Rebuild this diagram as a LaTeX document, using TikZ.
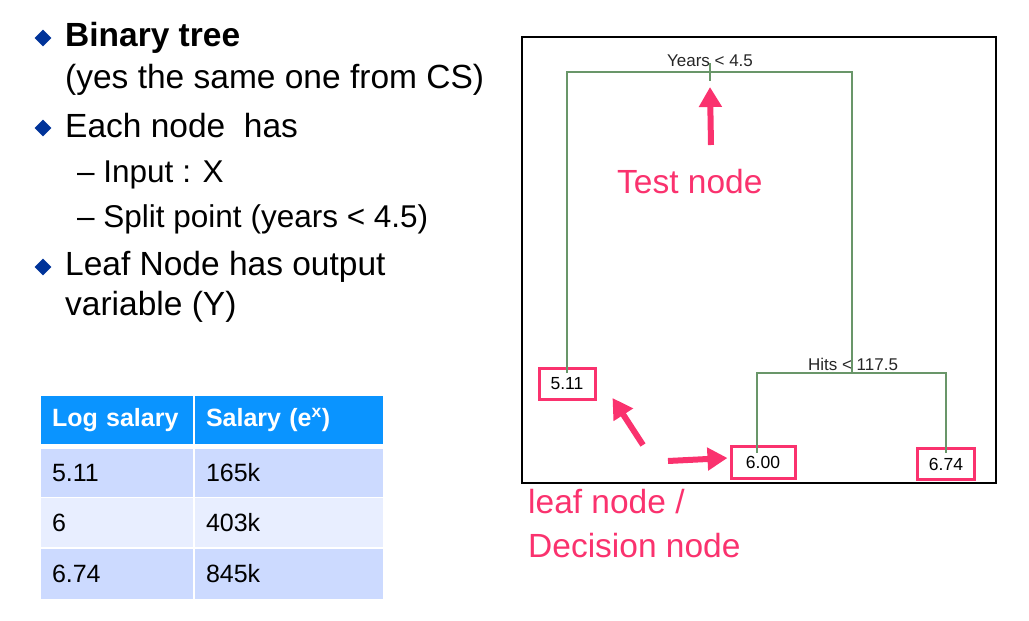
\documentclass[tikz,border=0pt]{standalone}
\usepackage{fontspec}
\setmainfont{Liberation Sans}
\usepackage{xcolor}
\usetikzlibrary{positioning,arrows.meta,shapes.geometric}
\definecolor{hotpink}{RGB}{250,50,110}
\definecolor{treegreen}{RGB}{105,150,105}
\definecolor{bulletblue}{RGB}{0,51,153}
\definecolor{headblue}{RGB}{10,148,255}
\definecolor{rowdark}{RGB}{204,218,255}
\definecolor{rowlight}{RGB}{232,238,255}
\tikzset{
    bullet/.style = {diamond, fill=bulletblue, inner sep=0pt, minimum size=17pt},
    txt/.style = {anchor=base west, inner sep=0pt, font=\fontsize{33.5}{40}\selectfont},
    subtxt/.style = {anchor=base west, inner sep=0pt, font=\fontsize{31.5}{38}\selectfont},
    pinktxt/.style = {txt, text=hotpink},
    leaf/.style = {draw=hotpink, line width=3pt, inner sep=0pt, font=\fontsize{17.5}{21}\selectfont},
    split/.style = {inner sep=0pt, font=\fontsize{17}{20}\selectfont, text=black!85},
    branch/.style = {draw=treegreen, line width=1.2pt},
    callout/.style = {draw=hotpink, line width=6pt, -{Triangle[length=20pt,width=22pt]}},
    cell/.style = {inner xsep=11pt, inner ysep=0pt, align=left, font=\fontsize{25}{30}\selectfont},
    headcell/.style = {cell, fill=headblue, text=white, font=\fontsize{25}{30}\selectfont\bfseries}
}

\begin{document}
\begin{tikzpicture}[x=1pt, y=-1pt]
\useasboundingbox (0,0) rectangle (1029,621);

% bullet list
\node[bullet] (b1) at (43,38) {};
\node[txt, font=\fontsize{33.5}{40}\selectfont\bfseries] (binary) at (65,46) {Binary tree};
\node[txt] (cs) at (65,88) {(yes the same one from CS)};
\node[bullet] (b2) at (43,128) {};
\node[txt] (each) at (65,137) {Each node~ has};
\node[subtxt] (input) at (77,182) {-- Input : X};
\node[subtxt] (splitpt) at (77,227) {-- Split point (years < 4.5)};
\node[bullet] (b3) at (43,267) {};
\node[txt] (leafout) at (65,275) {Leaf Node has output};
\node[txt] (variable) at (65,315) {variable (Y)};

% table
\node[headcell, minimum height=48pt, text width=130pt] (h1) at (117,420) {Log salary};
\node[headcell, minimum height=48pt, text width=166pt] (h2) at (289,420) {Salary (e\textsuperscript{x})};
\node[cell, fill=rowdark, minimum height=48pt, text width=130pt] (r1a) at (117,473) {5.11};
\node[cell, fill=rowdark, minimum height=48pt, text width=166pt] (r1b) at (289,473) {165k};
\node[cell, fill=rowlight, minimum height=49pt, text width=130pt] (r2a) at (117,522.5) {6};
\node[cell, fill=rowlight, minimum height=49pt, text width=166pt] (r2b) at (289,522.5) {403k};
\node[cell, fill=rowdark, minimum height=50pt, text width=130pt] (r3a) at (117,574) {6.74};
\node[cell, fill=rowdark, minimum height=50pt, text width=166pt] (r3b) at (289,574) {845k};

% tree panel
\draw[line width=1.3pt] (522,37) rectangle (996,483);
\coordinate (root) at (710,72);
\coordinate (hitsroot) at (852,373);
\node[split] (years) at (710,61) {Years < 4.5};
\node[split] (hits) at (853,364) {Hits < 117.5};
\node[leaf, minimum width=56pt, minimum height=31pt] (leafA) at (567,384) {5.11};
\node[leaf, minimum width=64pt, minimum height=32pt] (leafB) at (763,462) {6.00};
\node[leaf, minimum width=57pt, minimum height=31pt] (leafC) at (946,464) {6.74};
\draw[branch] ([yshift=-6pt]leafA.north) |- (root) -| (hitsroot);
\draw[branch] ([yshift=9pt]root) -- ([yshift=-9pt]root);
\draw[branch] ([xshift=-6pt,yshift=-8pt]leafB.north) |- (hitsroot) -| ([yshift=-6pt]leafC.north);

% pink labels and arrows
\node[pinktxt] (testnode) at (617,193) {Test node};
\node[pinktxt] (leaflbl) at (528,513) {leaf node /};
\node[pinktxt] (decision) at (528,557) {Decision node};
\coordinate (tailT) at (711,145);
\coordinate (tailL) at (643,445);
\coordinate (tailR) at (668,461);
\draw[callout] (tailT) -- ([yshift=-15pt]root);
\draw[callout] (tailL) -- ([xshift=16pt,yshift=3pt]leafA.south east);
\draw[callout] (tailR) -- ([xshift=-2pt,yshift=4pt]leafB.west);
\end{tikzpicture}
\end{document}
